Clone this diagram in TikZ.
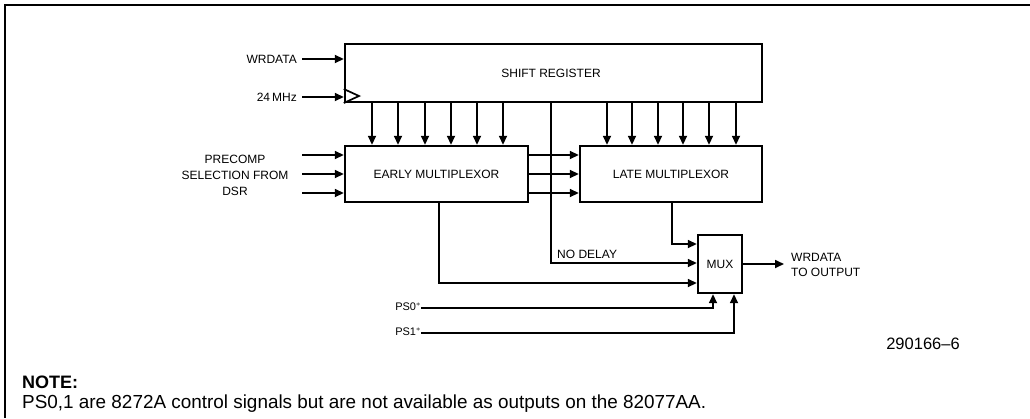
\documentclass[tikz,border=0pt]{standalone}
\usepackage{fontspec}
\setmainfont{Liberation Sans}
\usetikzlibrary{arrows.meta}
\begin{document}
\begin{tikzpicture}[x=1pt,y=-1pt,
  box/.style={draw,line width=2.4pt,inner sep=0pt},
  lbl/.style={font=\fontsize{12}{14}\selectfont,inner sep=0pt},
  small/.style={font=\fontsize{11}{12}\selectfont,inner sep=0pt},
  wire/.style={line width=1.7pt},
  arr/.style={wire,-{Triangle[length=9pt,width=8pt]}}]
\useasboundingbox (0,0) rectangle (1030,418);
% frame
\draw[line width=1.6pt] (1030,5) -- (5,5) -- (5,418);
% blocks
\node[box,minimum width=417pt,minimum height=58pt] (sr) at (553.5,73) {};
\node[lbl] (srt) at (551,73) {SHIFT REGISTER};
\node[box,minimum width=183pt,minimum height=56pt,lbl] (em) at (436.5,174) {EARLY MULTIPLEXOR};
\node[box,minimum width=182pt,minimum height=56pt,lbl] (lm) at (671,174) {LATE MULTIPLEXOR};
\node[box,minimum width=44pt,minimum height=58pt,lbl] (mux) at (720,264) {MUX};
% clock triangle
\draw[wire] (sr.west |- 0,89) -- (359,96) -- (sr.west |- 0,103);
% inputs to shift register
\node[lbl,anchor=east] (wrd) at (297,59) {WRDATA};
\node[lbl,anchor=east] (clk) at (297,97) {24\,MHz};
\coordinate (wrs) at (302,59);
\coordinate (clks) at (302,97);
\draw[arr] (wrs) -- (sr.west |- wrs);
\draw[arr] (clks) -- (sr.west |- clks);
% shift register to early mux
\foreach \x in {372,398,425,451,477,503}
  \draw[arr] (sr.south -| \x,0) -- (em.north -| \x,0);
% shift register to late mux
\foreach \x in {607,632,658,683,709,736}
  \draw[arr] (sr.south -| \x,0) -- (lm.north -| \x,0);
% precomp inputs
\node[lbl,align=center,font=\fontsize{12}{16}\selectfont] (pre) at (235,175) {PRECOMP\\SELECTION FROM\\DSR};
\foreach \y in {155,174,193} {
  \coordinate (p\y) at (302,\y);
  \draw[arr] (p\y) -- (em.west |- p\y);
  \draw[arr] (em.east |- p\y) -- (lm.west |- p\y);
}
% no delay path
\coordinate (nd) at (551,263);
\draw[arr] (sr.south -| nd) -- (nd) -- (mux.west |- nd);
\node[lbl,anchor=base west] (ndl) at (557,258.5) {NO DELAY};
% late mux to mux
\coordinate (lmc) at (672,244);
\draw[arr] (lm.south -| lmc) -- (lmc) -- (mux.west |- lmc);
% early mux to mux
\coordinate (emc) at (439,283);
\draw[arr] (em.south -| emc) -- (emc) -- (mux.west |- emc);
% output
\coordinate (out) at (784,264);
\draw[arr] (mux.east |- out) -- (out);
\node[lbl,anchor=west,align=left,font=\fontsize{12}{15}\selectfont] (outl) at (791,264.5) {WRDATA\\TO OUTPUT};
% PS0 / PS1
\node[small,anchor=east] (ps0) at (421,307) {PS0$^{\ast}$};
\node[small,anchor=east] (ps1) at (421,332) {PS1$^{\ast}$};
\coordinate (c0) at (713,308);
\coordinate (c1) at (734,333);
\draw[arr] (ps0.east |- c0) -- (c0) -- (mux.south -| c0);
\draw[arr] (ps1.east |- c1) -- (c1) -- (mux.south -| c1);
% figure number and note
\node[font=\fontsize{16.5}{18}\selectfont,inner sep=0pt] (fig) at (923,344) {290166–6};
\node[font=\fontsize{18}{20}\selectfont\bfseries,anchor=base west,inner sep=0pt] (note) at (22,388) {NOTE:};
\node[font=\fontsize{18.9}{20}\selectfont,anchor=base west,inner sep=0pt] (notet) at (22,408) {PS0,1 are 8272A control signals but are not available as outputs on the 82077AA.};
\end{tikzpicture}
\end{document}
